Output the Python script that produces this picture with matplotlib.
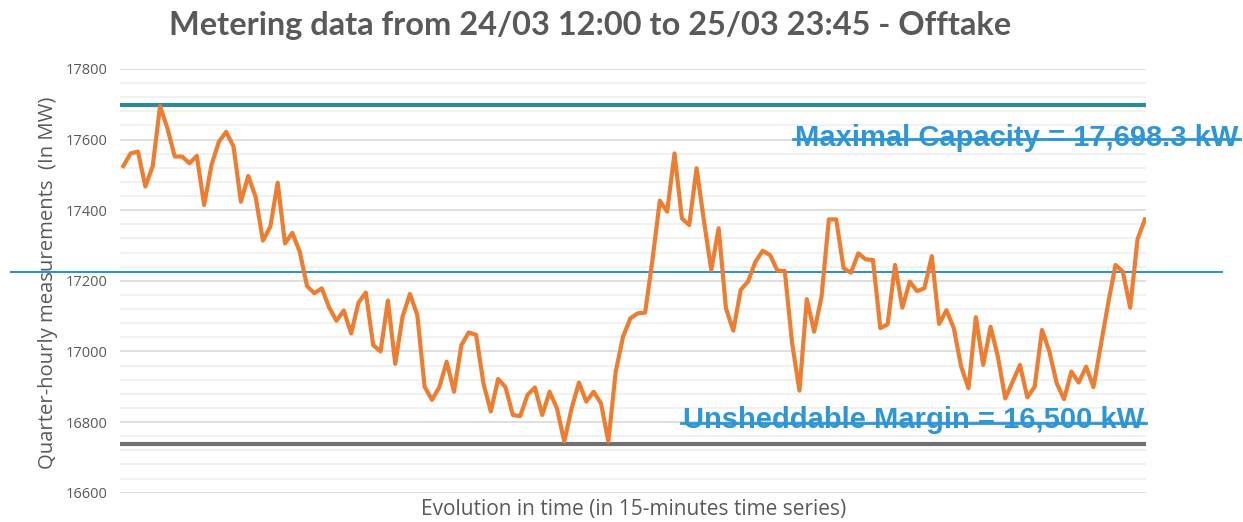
import numpy as np
import matplotlib
matplotlib.use("Agg")
import matplotlib.pyplot as plt
from matplotlib.ticker import MultipleLocator
from matplotlib.transforms import blended_transform_factory

# ---------------- data ----------------
title = "Metering data from 24/03 12:00 to 25/03 23:45 - Offtake"
y_label = "Quarter-hourly measurements  (In MW)"
x_label = "Evolution in time (in 15-minutes time series)"

offtake = [
    17525, 17561, 17566, 17467, 17525, 17695, 17632, 17552, 17552, 17533, 17554, 17415,
    17528, 17594, 17622, 17580, 17424, 17497, 17438, 17314, 17353, 17478, 17306, 17336,
    17283, 17185, 17165, 17179, 17125, 17087, 17116, 17051, 17138, 17167, 17018, 17000,
    17144, 16965, 17099, 17163, 17103, 16900, 16863, 16899, 16971, 16886, 17018,
    17054, 17047, 16910, 16830, 16922, 16899, 16820, 16817, 16877, 16898, 16820, 16886,
    16839, 16745, 16839, 16912, 16858, 16886, 16853, 16745, 16943, 17042, 17094,
    17108, 17110, 17260, 17427, 17396, 17561, 17377, 17358, 17519, 17370, 17231, 17349,
    17122, 17059, 17174, 17198, 17254, 17285, 17273, 17229,
    17228, 17023, 16889, 17148, 17056, 17155, 17374, 17374, 17236, 17223, 17278, 17261,
    17259, 17066, 17077, 17245, 17124, 17198, 17171, 17179, 17270, 17078, 17117,
    17066, 16957, 16896, 17097, 16962, 17070, 16985, 16867, 16914, 16962, 16870, 16900,
    17061, 17000, 16910, 16865, 16943, 16912, 16957, 16899, 17018, 17136, 17245, 17226,
    17124, 17318, 17374,
]

max_capacity = 17698.3
lower_line = 16738
mid_line = 17225
y_ticks = [16600, 16800, 17000, 17200, 17400, 17600, 17800]
label_max = "Maximal Capacity = 17,698.3 kW"
label_min = "Unsheddable Margin = 16,500 kW"

# ---------------- figure ----------------
W, H = 1243, 522
fig = plt.figure(figsize=(W / 100, H / 100), dpi=100)
fig.patch.set_facecolor("white")

left_px, right_px, top_px, bottom_px = 120, 1146, 69, 492.7
ax = fig.add_axes([left_px / W, 1 - bottom_px / H,
                   (right_px - left_px) / W, (bottom_px - top_px) / H])

x = np.arange(len(offtake))
ax.set_xlim(-0.45, len(offtake) - 1 + 0.15)
ax.set_ylim(y_ticks[0], y_ticks[-1])

ax.yaxis.set_minor_locator(MultipleLocator(40))
ax.set_yticks(y_ticks)
ax.set_yticklabels([str(v) for v in y_ticks])
ax.grid(which="major", axis="y", color="#D9D9D9", linewidth=1.2, zorder=0)
ax.grid(which="minor", axis="y", color="#EFEFEF", linewidth=1.2, zorder=0)
ax.set_xticks([])
ax.tick_params(axis="y", which="both", length=0, pad=9,
               labelsize=10.5, labelcolor="#595959")
for lab in ax.get_yticklabels():
    lab.set_family(["Open Sans", "DejaVu Sans"])
for s in ax.spines.values():
    s.set_visible(False)

# reference lines
ax.axhline(max_capacity, color="#2E8A98", linewidth=3.0, zorder=2, solid_capstyle="round")
ax.axhline(lower_line, color="#707070", linewidth=3.0, zorder=2, solid_capstyle="round")
trans = blended_transform_factory(fig.transFigure, ax.transData)
ax.plot([11 / W, 1222 / W], [mid_line, mid_line], transform=trans, color="#2E92D0",
        linewidth=1.5, clip_on=False, zorder=3)

# data line
ax.plot(x, offtake, color="#ED7D31", linewidth=3.0, zorder=4, solid_joinstyle="round")

# labels
fig.text(590 / W, 1 - 26 / H, title, ha="center", va="center", fontsize=23.4,
         fontweight="bold", color="#595959",
         family=["Lato", "DejaVu Sans"])
fig.text(48 / W, 1 - 283 / H, y_label, rotation=90, ha="center", va="center",
         fontsize=14.6, color="#595959", family=["Open Sans", "DejaVu Sans"])
fig.text(634 / W, 1 - 510 / H, x_label, ha="center", va="center",
         fontsize=15, color="#595959", family=["Open Sans", "DejaVu Sans"])

t1 = fig.text(1238 / W, 1 - 138 / H, label_max, ha="right", va="center",
              fontsize=21, fontweight="bold", color="#2E96D4",
              family=["Liberation Sans", "DejaVu Sans"])
t2 = fig.text(683 / W, 1 - 420 / H, label_min, ha="left", va="center",
              fontsize=21, fontweight="bold", color="#2E96D4",
              family=["Liberation Sans", "DejaVu Sans"])

# strike-through lines
fig.canvas.draw()
r = fig.canvas.get_renderer()
for t, ypx in ((t1, 139), (t2, 423)):
    bb = t.get_window_extent(r)
    yy = 1 - ypx / H
    fig.add_artist(plt.Line2D([(bb.x0 - 2) / W, (bb.x1 + 2) / W], [yy, yy],
                              transform=fig.transFigure, color="#2E96D4", linewidth=2))

fig.savefig("out.png", dpi=100, facecolor="white")
